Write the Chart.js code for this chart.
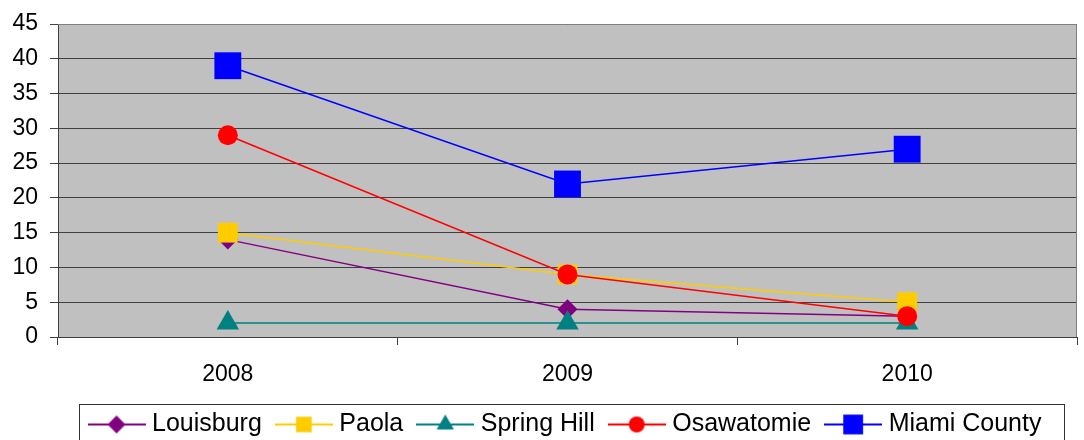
<!DOCTYPE html>
<html>
<head>
<meta charset="utf-8">
<script src="https://cdn.jsdelivr.net/npm/chart.js@4/dist/chart.umd.min.js"></script>
<style>
  html, body { margin: 0; padding: 0; background: #ffffff; }
  #wrap { width: 1084px; height: 440px; position: relative; }
</style>
</head>
<body>
<div id="wrap"><canvas id="chart"></canvas></div>
<script>
// Categories and values per community
const years = ['2008', '2009', '2010'];
const louisburg = [14, 4, 3];
const paola = [15, 9, 5];
const springHill = [2, 2, 2];
const osawatomie = [29, 9, 3];
const miamiCounty = [39, 22, 27];
const yTickValues = [0, 5, 10, 15, 20, 25, 30, 35, 40, 45];

const FONT = '"Liberation Sans", Arial, sans-serif';

// Series appearance: colour, marker shape, marker radius on the plot and in the legend
const series = [
  { label: 'Louisburg',    data: louisburg,   color: '#800080', style: 'rectRot',  r: 10, lr: 9 },
  { label: 'Paola',        data: paola,       color: '#FFCC00', style: 'rect',     r: 14, lr: 11 },
  { label: 'Spring Hill',  data: springHill,  color: '#008080', style: 'triangle', r: 13, lr: 10 },
  { label: 'Osawatomie',   data: osawatomie,  color: '#FF0000', style: 'circle',   r: 10, lr: 8 },
  { label: 'Miami County', data: miamiCounty, color: '#0000FF', style: 'rect',     r: 19, lr: 14 }
];

// Legend swatch: a short line with the marker in its middle
function legendSwatch(color, style, r) {
  const cv = document.createElement('canvas');
  cv.width = 58; cv.height = 30;
  const ctx = cv.getContext('2d');
  ctx.strokeStyle = color;
  ctx.lineWidth = 2;
  ctx.beginPath();
  ctx.moveTo(0, 15); ctx.lineTo(58, 15);
  ctx.stroke();
  ctx.fillStyle = color;
  Chart.helpers.drawPoint(ctx, { pointStyle: style, radius: r, rotation: 0, borderWidth: 0 }, 29, 15);
  return cv;
}
const swatches = series.map(s => legendSwatch(s.color, s.style, s.lr));

// Grey plot background and its outer frame
const plotFrame = {
  id: 'plotFrame',
  beforeDraw(chart) {
    const { ctx, chartArea: a } = chart;
    ctx.save();
    ctx.fillStyle = '#C0C0C0';
    ctx.fillRect(a.left, a.top, a.right - a.left, a.bottom - a.top);
    ctx.restore();
  },
  beforeDatasetsDraw(chart) {
    const { ctx, chartArea: a } = chart;
    ctx.save();
    ctx.strokeStyle = '#808080';
    ctx.lineWidth = 1;
    ctx.beginPath();
    ctx.moveTo(a.left, a.top + 0.5);
    ctx.lineTo(a.right - 0.5, a.top + 0.5);
    ctx.lineTo(a.right - 0.5, a.bottom);
    ctx.stroke();
    ctx.restore();
  }
};

// Frame drawn around the legend row
const legendFrame = {
  id: 'legendFrame',
  afterDraw(chart) {
    const boxes = chart.legend && chart.legend.legendHitBoxes;
    if (!boxes || !boxes.length) return;
    const first = boxes[0], last = boxes[boxes.length - 1];
    const left = first.left - 15;
    const right = last.left + last.width + 22;
    const top = first.top + first.height / 2 - 21;
    const { ctx } = chart;
    ctx.save();
    ctx.strokeStyle = '#333333';
    ctx.lineWidth = 1;
    ctx.strokeRect(Math.round(left) + 0.5, Math.round(top) + 0.5, Math.round(right - left), 60);
    ctx.restore();
  }
};

new Chart(document.getElementById('chart'), {
  type: 'line',
  data: {
    labels: years,
    datasets: series.map((s, i) => ({
      label: s.label,
      data: s.data,
      borderColor: s.color,
      backgroundColor: s.color,
      borderWidth: 1.5,
      pointStyle: s.style,
      pointRadius: s.r,
      pointHoverRadius: s.r,
      pointBorderWidth: 0,
      pointBackgroundColor: s.color,
      tension: 0,
      fill: false,
      clip: false,
      order: series.length - i
    }))
  },
  options: {
    responsive: true,
    maintainAspectRatio: false,
    animation: false,
    events: [],
    layout: { autoPadding: false, padding: { top: 24, right: 7, left: 0, bottom: -7 } },
    plugins: {
      title: { display: false },
      tooltip: { enabled: false },
      legend: {
        position: 'bottom',
        fullSize: false,
        labels: {
          usePointStyle: true,
          pointStyleWidth: 46,
          boxHeight: 24,
          padding: 19,
          color: '#000000',
          font: { family: FONT, size: 25 },
          generateLabels(chart) {
            return chart.data.datasets.map((ds, i) => ({
              text: ds.label,
              pointStyle: swatches[i],
              fillStyle: ds.borderColor,
              strokeStyle: ds.borderColor,
              lineWidth: 0,
              hidden: false,
              datasetIndex: i
            }));
          }
        }
      }
    },
    scales: {
      x: {
        type: 'category',
        offset: true,
        grid: { offset: true, drawOnChartArea: false, drawTicks: true, tickLength: 8, color: '#404040', lineWidth: 1 },
        border: { display: true, color: '#404040', width: 1 },
        ticks: { font: { family: FONT, size: 23 }, color: '#000000', padding: 16, maxRotation: 0 },
        afterFit(s) { s.height = 56; s.paddingLeft = 0; s.paddingRight = 0; }
      },
      y: {
        min: 0,
        max: 45,
        afterBuildTicks(s) { s.ticks = yTickValues.map(v => ({ value: v })); },
        grid: { color: '#404040', lineWidth: 1, tickLength: 8 },
        border: { display: true, color: '#404040', width: 1 },
        ticks: { font: { family: FONT, size: 23 }, color: '#000000', padding: 12 },
        afterFit(s) { s.width = 58; s.paddingTop = 0; s.paddingBottom = 0; }
      }
    }
  },
  plugins: [plotFrame, legendFrame]
});
</script>
</body>
</html>
